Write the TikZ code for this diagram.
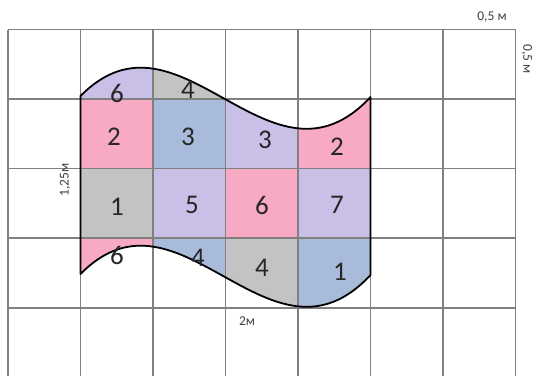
\documentclass[tikz,border=0pt]{standalone}
\usepackage{fontspec}
\setmainfont{Carlito}
\definecolor{cpink}{HTML}{F8AAC5}
\definecolor{clav}{HTML}{CAC0E7}
\definecolor{cblue}{HTML}{A8BBDB}
\definecolor{cgray}{HTML}{C3C3C3}
\definecolor{gridc}{HTML}{808080}
\tikzset{
  gridline/.style={draw=gridc, line width=1.3pt},
  outline/.style={draw=black, line width=1.8pt, line join=round},
  num/.style={font=\fontsize{27}{27}\selectfont, text=black!85, inner sep=0pt},
  lab/.style={font=\fontsize{13.5}{13.5}\selectfont, text=black!75, inner sep=0pt},
}
\begin{document}
\begin{tikzpicture}[x=1pt,y=-1pt]
\useasboundingbox (0,0) rectangle (535,375);
\fill[white] (0,0) rectangle (535,375);
% coordinates of the flag
\coordinate (tl) at (80.5,96);
\coordinate (tr) at (370.5,97);
\coordinate (bl) at (80.5,274);
\coordinate (br) at (370.5,275);
% fills clipped to the flag
\begin{scope}
\clip (tl) .. controls (180,-5) and (270,205) .. (tr) -- (br)
      .. controls (270,383) and (180,173) .. (bl) -- cycle;
% top partial row
\fill[clav] (80.5,0) rectangle (153,99);
\fill[cgray] (153,0) rectangle (225.5,99);
% row 1
\fill[cpink] (80.5,99) rectangle (153,168.5);
\fill[cblue] (153,99) rectangle (225.5,168.5);
\fill[clav] (225.5,0) rectangle (298,168.5);
\fill[cpink] (298,0) rectangle (370.5,168.5);
% row 2
\fill[cgray] (80.5,168.5) rectangle (153,238);
\fill[clav] (153,168.5) rectangle (225.5,238);
\fill[cpink] (225.5,168.5) rectangle (298,238);
\fill[clav] (298,168.5) rectangle (370.5,238);
% row 3
\fill[cpink] (80.5,238) rectangle (153,400);
\fill[cblue] (153,238) rectangle (225.5,400);
\fill[cgray] (225.5,238) rectangle (298,400);
\fill[cblue] (298,238) rectangle (370.5,400);
\end{scope}
% grid
\foreach \k in {0,...,7} {
  \draw[gridline] ({8+72.5*\k},29.5) -- ({8+72.5*\k},376);
}
\foreach \y in {29.5,99,168.5,238,308} {
  \draw[gridline] (8,\y) -- (515.5,\y);
}
% flag outline
\draw[outline] (tl) .. controls (180,-5) and (270,205) .. (tr) -- (br)
      .. controls (270,383) and (180,173) .. (bl) -- cycle;
% numbers
\node[num] (n01) at (117,93) {6};
\node[num] (n02) at (188,90) {4};
\node[num] (n11) at (114,137) {2};
\node[num] (n12) at (188,137) {3};
\node[num] (n13) at (265,140) {3};
\node[num] (n14) at (337,147) {2};
\node[num] (n21) at (117,207) {1};
\node[num] (n22) at (192,205) {5};
\node[num] (n23) at (262,205) {6};
\node[num] (n24) at (337,205) {7};
\node[num] (n31) at (117,255) {6};
\node[num] (n32) at (198,258) {4};
\node[num] (n33) at (262,268) {4};
\node[num] (n34) at (340,272) {1};
% dimension labels
\node[lab] (ltop) at (492,17) {0,5 м};
\node[lab, rotate=-90] (lright) at (527,59) {0,5 м};
\node[lab, rotate=90] (lleft) at (65,180) {1,25м};
\node[lab] (lbot) at (247,321) {2м};
\end{tikzpicture}
\end{document}
